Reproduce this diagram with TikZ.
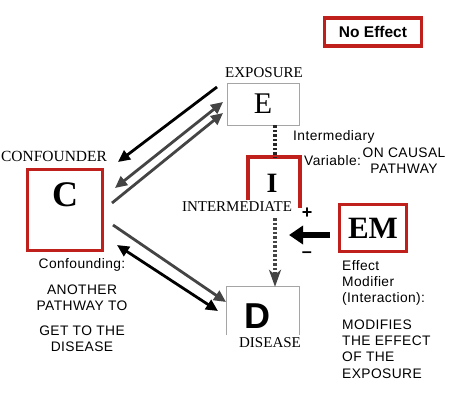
\documentclass[tikz,border=0pt]{standalone}
\usepackage{fontspec}
\setmainfont{Liberation Serif}
\newfontfamily\sansf[LetterSpace=3]{Liberation Sans}
\newfontfamily\sansb{Liberation Sans}
\usetikzlibrary{arrows.meta}
\definecolor{boxred}{RGB}{192,32,28}
\definecolor{boxgray}{RGB}{165,165,165}
\definecolor{arrgray}{RGB}{68,68,68}
\begin{document}
\begin{tikzpicture}[x=1pt,y=-1pt,
  redbox/.style={draw=boxred, line width=3.5pt, inner sep=0pt},
  plainbox/.style={inner sep=0pt},
  serlabel/.style={font=\fontsize{15}{16}\selectfont, inner sep=0pt},
  sanstext/.style={font=\sansf\fontsize{13.8}{16.3}\selectfont, inner sep=0pt},
  blkarrow/.style={line width=2.8pt, draw=black, -{Triangle[length=12pt,width=11pt]}},
  blkdouble/.style={line width=2.8pt, draw=black, {Triangle[length=12pt,width=11pt]}-{Triangle[length=12pt,width=11pt]}},
  grayarrow/.style={line width=2.8pt, draw=arrgray, -{Triangle[length=12pt,width=11pt]}},
  graydouble/.style={line width=2.8pt, draw=arrgray, {Triangle[length=12pt,width=11pt]}-{Triangle[length=12pt,width=11pt]}},
  dotline/.style={line width=4pt, dash pattern=on 2.5pt off 2pt}
]
\useasboundingbox (0,0) rectangle (449,410);
\fill[white] (0,0) rectangle (449,410);

% No Effect
\node[redbox, minimum width=97pt, minimum height=28pt, font=\sansb\bfseries\fontsize{15.5}{17}\selectfont] (noeff) at (373,32) {No Effect};

% E box
\node[plainbox, draw=boxgray, line width=0.8pt, minimum width=72pt, minimum height=42pt, font=\fontsize{30}{32}\selectfont] (E) at (263,104) {E};
\node[serlabel] (explab) at (264,73) {EXPOSURE};

% C box
\node[redbox, minimum width=75pt, minimum height=81pt] (C) at (65,210) {};
\node[font=\bfseries\fontsize{36}{40}\selectfont, inner sep=0pt] (Cl) at (65,195) {C};
\node[serlabel, font=\fontsize{15.5}{16}\selectfont] (conflab) at (54,156) {CONFOUNDER};

% I bracket
\coordinate (Ibl) at (248,200);
\coordinate (Itl) at (248,157);
\coordinate (Itr) at (300,157);
\coordinate (Ibr) at (300,208);
\draw[draw=boxred, line width=3.5pt] (Ibl) -- (Itl) -- (Itr) -- (Ibr);
\node[font=\bfseries\fontsize{28}{30}\selectfont, inner sep=0pt] (I) at (272,183) {I};
\node[serlabel] (intlab) at (237,207) {INTERMEDIATE};

% D box
\node[plainbox, minimum width=72pt, minimum height=48pt] (D) at (263,311) {};
\draw[draw=boxgray, line width=0.8pt] (D.south west) -- (D.north west) -- (D.north east) -- (D.south east);
\node[font=\sansb\bfseries\fontsize{36}{38}\selectfont, inner sep=0pt] (Dl) at (257,316) {D};
\node[serlabel, fill=white, inner sep=1pt] (dislab) at (270,343) {DISEASE};

% EM box
\node[redbox, minimum width=67pt, minimum height=47pt, font=\bfseries\fontsize{31}{33}\selectfont] (EM) at (373,228) {EM};

% arrows C <-> E
\coordinate (a1s) at (217,87);  \coordinate (a1e) at (118,162);
\coordinate (a2s) at (115,188); \coordinate (a2e) at (223,102);
\coordinate (a3s) at (112,203); \coordinate (a3e) at (223,113);
\draw[blkarrow] (a1s) -- (a1e);
\draw[graydouble] (a2s) -- (a2e);
\draw[grayarrow] (a3s) -- (a3e);

% arrows C <-> D
\coordinate (b1s) at (113,225); \coordinate (b1e) at (226,302);
\coordinate (b2s) at (117,245); \coordinate (b2e) at (218,311);
\draw[grayarrow] (b1s) -- (b1e);
\draw[blkdouble] (b2s) -- (b2e);

% dotted causal line
\coordinate (Itop) at (275,157);
\coordinate (Ibot) at (275,218);
\draw[dotline, draw=black!85] (E.south -| Itop) -- (Itop);
\draw[dotline, draw=arrgray, -{Stealth[length=17pt,width=12pt,inset=5pt]}] (Ibot) -- (D.north -| Ibot);

% EM arrow
\coordinate (emtip) at (289,235);
\draw[line width=6pt, -{Triangle[length=14pt,width=18pt]}] (EM.west |- emtip) ++(-8,0) -- (emtip);
\node[font=\sansb\bfseries\fontsize{18}{18}\selectfont, inner sep=0pt] (plus) at (307,213) {+};
\node[font=\sansb\bfseries\fontsize{18}{18}\selectfont, inner sep=0pt] (minus) at (307,255) {\textendash};

% texts
\node[sanstext, anchor=west] (interm) at (293,137) {Intermediary};
\node[sanstext, anchor=west] (varl) at (304,161) {Variable:};
\node[sanstext, align=center] (oncaus) at (404,161) {ON CAUSAL\\PATHWAY};

\node[sanstext] (confd) at (82,265) {Confounding:};
\node[sanstext, align=center] (anoth) at (82,298) {ANOTHER\\PATHWAY TO};
\node[sanstext, align=center] (getto) at (82,339) {GET TO THE\\DISEASE};

\node[sanstext, align=left, anchor=west] (effmod) at (342,283) {Effect\\Modifier\\(Interaction):};
\node[sanstext, align=left, anchor=west] (modif) at (342,349) {MODIFIES\\THE EFFECT\\OF THE\\EXPOSURE};
\end{tikzpicture}
\end{document}
